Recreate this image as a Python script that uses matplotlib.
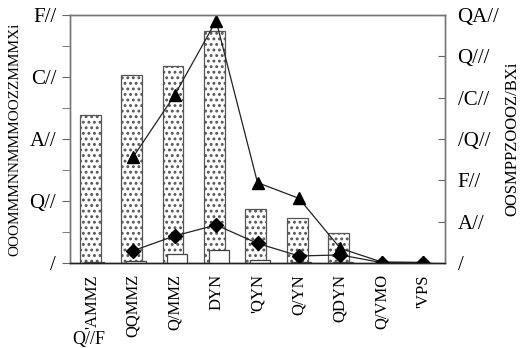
import numpy as np
import matplotlib
matplotlib.use("Agg")
import matplotlib.pyplot as plt

plt.rcParams['font.family'] = ['Liberation Serif', 'DejaVu Serif']
plt.rcParams['hatch.linewidth'] = 1.3

# données
categories = ["'AMMZ", "QQMMZ", "Q/MMZ", "DYN", "'QYN", "Q/YN", "QDYN", "Q/VMO", "'VPS"]
barres_pointillees = [477, 607, 636, 748, 175, 146, 97, 0, 0]
barres_blanches = [3, 6, 28, 42, 10, 3, 2, 0, 0]
triangles = [np.nan, 514, 813, 1172, 389, 313, 71, 5, 3]
losanges = [np.nan, 60, 131, 184, 95, 34, 39, 2, 2]

ticks_gauche = [0, 200, 400, 600, 800]
labels_gauche = ["/", "Q//", "A//", "C//", "F//"]
ticks_droite = [0, 200, 400, 600, 800, 1000, 1200]
labels_droite = ["/", "A//", "F//", "/Q//", "/C//", "Q///", "QA//"]

x = np.arange(len(categories))

fig = plt.figure(figsize=(5.26, 3.48), dpi=100)
ax1 = fig.add_axes([70/526, 1-263/348, 375/526, 248/348])
ax2 = ax1.twinx()

ax1.bar(x - 0.04, barres_pointillees, width=0.5, facecolor='white',
        edgecolor='#555555', hatch='...', linewidth=0.9, zorder=2)
ax1.bar(x + 0.06, barres_blanches, width=0.48, facecolor='white',
        edgecolor='#444444', linewidth=0.9, zorder=3)

ax2.plot(x, triangles, color='#222222', lw=0.9, marker='^', ms=9, mfc='black', mec='black')
ax2.plot(x, losanges, color='#222222', lw=0.9, marker='D', ms=7, mfc='black', mec='black')

ax1.set_xlim(-0.53, 8.53)
ax1.set_ylim(0, 800)
ax2.set_ylim(0, 1200)

ax1.set_yticks(ticks_gauche)
ax1.set_yticklabels(labels_gauche, fontsize=15)
ax1.set_yticks([100, 300, 500, 700], minor=True)
ax1.tick_params(axis='y', which='both', direction='out', length=6, color='#666666', pad=4)
ax2.set_yticks(ticks_droite)
ax2.set_yticklabels(labels_droite, fontsize=15)
ax2.tick_params(axis='y', direction='in', length=5, color='#666666', pad=9)

ax1.set_xticks(x)
ax1.set_xticklabels(categories, rotation=90, fontsize=12)
ax1.tick_params(axis='x', length=0, pad=8)

for a in (ax1, ax2):
    for s in a.spines.values():
        s.set_color('#777777')
        s.set_linewidth(1.0)
    a.spines['bottom'].set_color('#222222')

ax1.set_ylabel("OOOMMMNNMMMOOZZMMMXi", fontsize=11, labelpad=6)
ax2.set_ylabel("OOSMPPZOOOZ/BXi", fontsize=12, labelpad=4)

fig.text(72/526, 1-331/348, "Q//F", fontsize=13, va='top', ha='left')

fig.savefig("out.png", dpi=100)
